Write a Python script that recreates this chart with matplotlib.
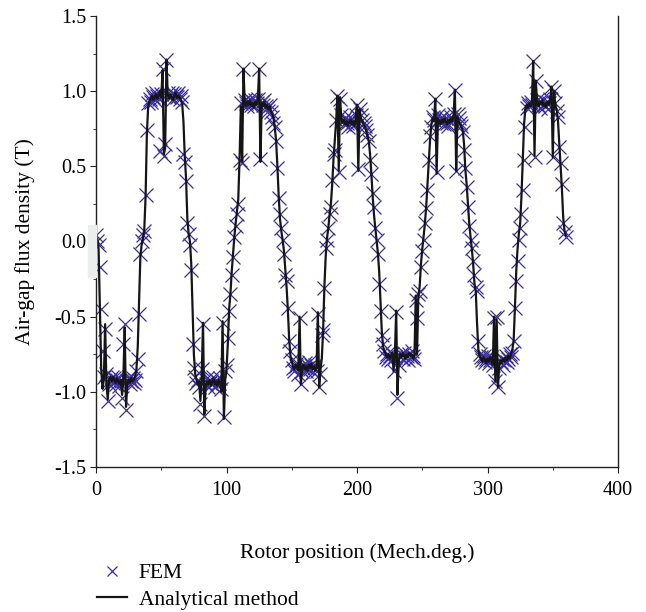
import numpy as np
import matplotlib
matplotlib.use("Agg")
import matplotlib.pyplot as plt
from matplotlib.ticker import MultipleLocator
from matplotlib.patches import Rectangle

# rotor position, 1 mech. degree step
rotor_pos = np.arange(0, 361, 1)

# analytical air-gap flux density (T)
b_analytical = [
    0.02, 0.02, -0.05, -0.45, -0.85, -0.98, -0.92, -0.55, -0.95, -1.05,
    -0.92, -0.90, -0.93, -0.90, -0.92, -0.94, -0.91, -0.93, -0.95, -0.92,
    -1.02, -0.90, -0.57, -1.10, -0.95, -0.92, -0.94, -0.91, -0.93, -0.92,
    -0.90, -0.85, -0.70, -0.40, -0.10, -0.02, 0.02, 0.08, 0.30, 0.72,
    0.90, 0.93, 0.95, 0.97, 0.94, 0.96, 0.98, 0.95, 0.97, 1.00,
    0.96, 1.14, 0.58, 0.62, 1.21, 0.97, 0.95, 0.98, 0.96, 0.94,
    0.97, 0.99, 0.95, 0.97, 0.96, 0.94, 0.92, 0.80, 0.57, 0.42,
    0.15, 0.05, 0.00, -0.15, -0.45, -0.75, -0.88, -0.92, -0.95, -0.93,
    -1.06, -0.90, -0.54, -1.15, -0.97, -0.93, -0.95, -0.92, -0.96, -0.93,
    -0.91, -0.95, -0.93, -0.96, -0.92, -0.94, -1.00, -0.53, -1.18, -0.92,
    -0.85, -0.68, -0.45, -0.35, -0.20, -0.08, 0.03, 0.12, 0.20, 0.28,
    0.55, 0.90, 0.53, 1.15, 0.92, 0.90, 0.93, 0.91, 0.94, 0.90,
    0.92, 0.89, 0.93, 0.91, 0.94, 1.15, 0.53, 0.92, 0.90, 0.93,
    0.89, 0.91, 0.88, 0.90, 0.87, 0.85, 0.82, 0.76, 0.67, 0.50,
    0.30, 0.15, 0.07, 0.01, -0.06, -0.18, -0.30, -0.45, -0.65, -0.76,
    -0.80, -0.83, -0.85, -0.82, -0.84, -0.86, -0.50, -0.95, -0.84, -0.82,
    -0.85, -0.83, -0.86, -0.82, -0.84, -0.81, -0.85, -0.83, -0.86, -0.84,
    -0.47, -0.97, -0.85, -0.78, -0.60, -0.30, -0.10, 0.02, 0.09, 0.18,
    0.25, 0.38, 0.55, 0.68, 0.80, 0.97, 0.47, 0.96, 0.82, 0.79,
    0.81, 0.78, 0.80, 0.77, 0.79, 0.81, 0.78, 0.80, 0.77, 0.82,
    0.91, 0.47, 0.88, 0.82, 0.80, 0.78, 0.76, 0.74, 0.70, 0.67,
    0.58, 0.45, 0.30, 0.18, 0.09, 0.01, -0.08, -0.20, -0.40, -0.60,
    -0.70, -0.73, -0.75, -0.77, -0.75, -0.78, -0.76, -0.74, -0.86, -0.76,
    -0.46, -1.02, -0.80, -0.75, -0.77, -0.74, -0.76, -0.78, -0.75, -0.77,
    -0.74, -0.76, -0.75, -0.78, -0.77, -0.36, -0.75, -0.36, -0.30, -0.15,
    -0.05, 0.03, 0.12, 0.23, 0.38, 0.54, 0.68, 0.78, 0.82, 0.80,
    0.95, 0.45, 0.82, 0.80, 0.78, 0.81, 0.79, 0.82, 0.80, 0.78,
    0.81, 0.79, 0.82, 0.80, 0.84, 1.01, 0.47, 0.83, 0.80, 0.78,
    0.76, 0.74, 0.65, 0.48, 0.38, 0.25, 0.12, 0.03, -0.05, -0.15,
    -0.28, -0.33, -0.55, -0.72, -0.76, -0.78, -0.80, -0.77, -0.79, -0.81,
    -0.78, -0.80, -0.77, -0.79, -0.82, -0.50, -0.93, -0.52, -0.97, -0.82,
    -0.79, -0.81, -0.78, -0.80, -0.77, -0.79, -0.76, -0.78, -0.75, -0.72,
    -0.66, -0.44, -0.20, -0.05, 0.05, 0.12, 0.30, 0.55, 0.78, 0.88,
    0.91, 0.89, 0.92, 0.90, 0.93, 1.20, 0.57, 1.07, 0.92, 0.90,
    0.93, 0.91, 0.94, 0.90, 0.92, 0.89, 0.93, 0.91, 0.94, 1.03,
    0.56, 1.00, 0.90, 0.88, 0.80, 0.65, 0.50, 0.35, 0.16, 0.07,
    0.04,
]

# FEM results (T)
b_fem = [
    0.04, 0.00, -0.02, -0.17, -0.45, -0.73, -0.90, -0.58, -0.88, -1.06,
    -0.95, -0.92, -0.90, -0.94, -0.91, -0.95, -0.92, -0.90, -0.96, -0.93,
    -1.04, -0.68, -0.55, -1.12, -0.93, -0.90, -0.95, -0.93, -0.91, -0.94,
    -0.92, -0.86, -0.78, -0.48, -0.08, 0.00, 0.04, 0.07, 0.31, 0.74,
    0.92, 0.95, 0.93, 0.98, 0.96, 0.94, 0.99, 0.97, 0.95, 0.60,
    0.98, 1.15, 0.57, 0.65, 1.21, 0.99, 0.96, 0.97, 0.99, 0.95,
    0.98, 0.97, 0.96, 0.99, 0.95, 0.97, 0.93, 0.58, 0.53, 0.40,
    0.12, 0.05, -0.02, -0.19, -0.68, -0.84, -0.90, -0.94, -0.92, -0.97,
    -1.08, -0.85, -0.55, -1.16, -0.95, -0.91, -0.97, -0.94, -0.93, -0.95,
    -0.90, -0.97, -0.92, -0.95, -0.94, -0.91, -0.98, -0.54, -1.17, -0.86,
    -0.82, -0.64, -0.46, -0.35, -0.22, -0.10, 0.03, 0.10, 0.18, 0.25,
    0.54, 0.92, 0.52, 1.15, 0.94, 0.92, 0.90, 0.93, 0.95, 0.91,
    0.93, 0.90, 0.94, 0.92, 0.95, 1.15, 0.55, 0.93, 0.91, 0.94,
    0.90, 0.89, 0.87, 0.91, 0.86, 0.83, 0.79, 0.76, 0.67, 0.49,
    0.29, 0.18, 0.09, 0.01, -0.08, -0.22, -0.26, -0.44, -0.66, -0.73,
    -0.79, -0.84, -0.86, -0.83, -0.81, -0.88, -0.51, -0.95, -0.86, -0.83,
    -0.81, -0.86, -0.84, -0.80, -0.85, -0.82, -0.87, -0.84, -0.82, -0.86,
    -0.48, -0.97, -0.88, -0.62, -0.59, -0.31, -0.04, 0.01, 0.09, 0.18,
    0.23, 0.41, 0.58, 0.61, 0.81, 0.97, 0.46, 0.95, 0.84, 0.80,
    0.78, 0.82, 0.79, 0.76, 0.80, 0.83, 0.79, 0.77, 0.80, 0.84,
    0.91, 0.48, 0.88, 0.84, 0.81, 0.79, 0.77, 0.74, 0.71, 0.67,
    0.54, 0.45, 0.32, 0.23, 0.09, 0.01, -0.08, -0.28, -0.46, -0.62,
    -0.68, -0.73, -0.77, -0.75, -0.78, -0.76, -0.79, -0.75, -0.86, -0.77,
    -0.47, -1.04, -0.82, -0.77, -0.75, -0.78, -0.74, -0.77, -0.76, -0.79,
    -0.75, -0.77, -0.73, -0.76, -0.78, -0.39, -0.51, -0.35, -0.33, -0.17,
    -0.06, 0.01, 0.12, 0.22, 0.34, 0.54, 0.70, 0.76, 0.83, 0.81,
    0.95, 0.46, 0.84, 0.81, 0.79, 0.83, 0.80, 0.78, 0.82, 0.79,
    0.77, 0.80, 0.83, 0.81, 0.85, 1.01, 0.47, 0.85, 0.82, 0.79,
    0.77, 0.73, 0.61, 0.49, 0.36, 0.23, 0.10, 0.01, -0.04, -0.13,
    -0.22, -0.30, -0.33, -0.66, -0.75, -0.77, -0.79, -0.76, -0.80, -0.78,
    -0.76, -0.81, -0.79, -0.77, -0.82, -0.51, -0.93, -0.50, -0.97, -0.84,
    -0.80, -0.78, -0.82, -0.79, -0.76, -0.80, -0.78, -0.75, -0.77, -0.74,
    -0.66, -0.44, -0.26, -0.13, 0.01, 0.09, 0.18, 0.34, 0.54, 0.76,
    0.89, 0.92, 0.90, 0.93, 0.91, 1.20, 0.56, 1.07, 0.94, 0.91,
    0.89, 0.93, 0.95, 0.91, 0.90, 0.93, 0.88, 0.92, 0.95, 1.03,
    0.56, 1.00, 0.92, 0.87, 0.83, 0.63, 0.52, 0.38, 0.12, 0.06,
    0.03,
]

plt.rcParams['font.family'] = ['Liberation Serif', 'DejaVu Serif']

fig = plt.figure(figsize=(6.46, 6.12), dpi=100)
ax = fig.add_axes([0.1486, 0.2369, 0.8081, 0.7370])

ax.plot(rotor_pos, b_fem, linestyle='none', marker='x', markersize=9.5,
        markeredgewidth=0.9, color='#3a2f9c', label='FEM')
ax.plot(rotor_pos, b_analytical, color='#151515', linewidth=1.6,
        label='Analytical method')

ax.set_xlim(0, 400)
ax.set_ylim(-1.5, 1.5)
ax.xaxis.set_major_locator(MultipleLocator(100))
ax.xaxis.set_minor_locator(MultipleLocator(50))
ax.yaxis.set_major_locator(MultipleLocator(0.5))
ax.yaxis.set_minor_locator(MultipleLocator(0.25))
ax.yaxis.set_major_formatter(plt.FuncFormatter(lambda v, p: f'{v:.1f}'))
ax.tick_params(which='both', direction='out', labelsize=14.5, color='#222222')
ax.tick_params(which='major', length=4)
ax.tick_params(which='minor', length=2.5)
ax.tick_params(axis='x', which='major', pad=6)
ax.tick_params(axis='y', which='major', pad=3)
ax.spines['top'].set_visible(False)
for s in ['left', 'bottom', 'right']:
    ax.spines[s].set_color('#222222')
    ax.spines[s].set_linewidth(1.0)

ax.set_xlabel('Rotor position (Mech.deg.)', fontsize=15.5, labelpad=31)
ax.set_ylabel('Air-gap flux density (T)', fontsize=15.5, labelpad=14)

# faint grey scan artefact next to the 0.0 label
fig.patches.append(Rectangle((88 / 646, 1 - 277 / 612), 8 / 646, 52 / 612,
                             transform=fig.transFigure, color='#eceeee', zorder=0))

fig.legend(loc='upper left', bbox_to_anchor=(0.150, 0.080),
           frameon=False, fontsize=15.5, handlelength=1.4, handletextpad=0.55,
           labelspacing=0.3, borderaxespad=0, borderpad=0, markerscale=0.75)

fig.savefig('out.png', dpi=100)
